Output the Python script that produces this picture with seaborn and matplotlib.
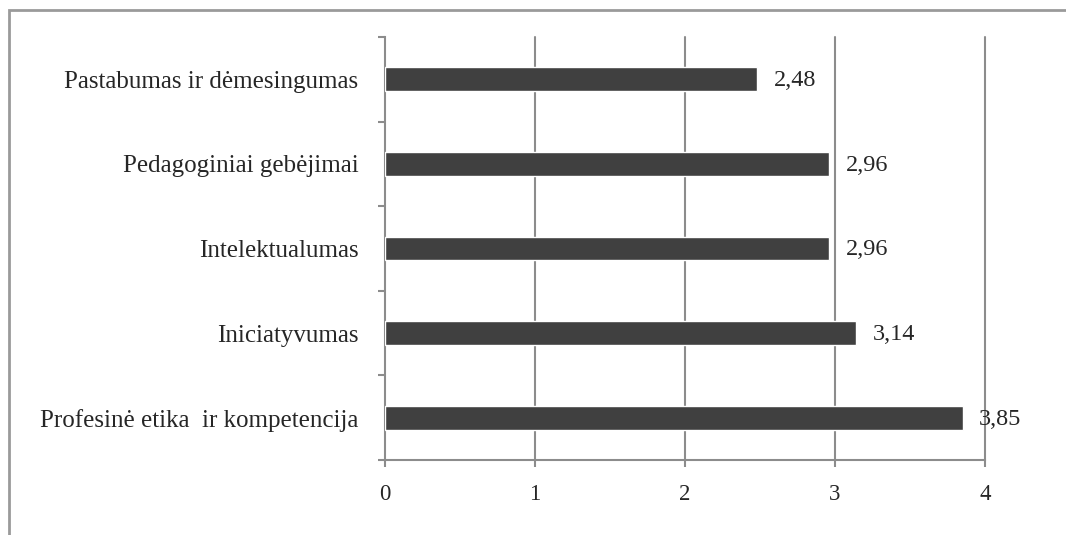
import numpy as np
import matplotlib
matplotlib.use("Agg")
import matplotlib.pyplot as plt
import seaborn as sns
from matplotlib.patches import Rectangle

categories = [
    "Pastabumas ir dėmesingumas",
    "Pedagoginiai gebėjimai",
    "Intelektualumas",
    "Iniciatyvumas",
    "Profesinė etika  ir kompetencija",
]
values = [2.48, 2.96, 2.96, 3.14, 3.85]
x_ticks = [0, 1, 2, 3, 4]

sns.set_style("white")
plt.rcParams['font.family'] = ['Liberation Serif', 'DejaVu Serif']

fig = plt.figure(figsize=(10.66, 5.35), dpi=100)
ax = fig.add_axes([385 / 1066, 1 - 460 / 535, 600 / 1066, 423 / 535])

sns.barplot(x=values, y=categories, orient="h", color="#404040", saturation=1,
            width=0.28, ax=ax, zorder=3)

grid_col = "#8c8c8c"
ax.set_xlim(0, 4)
ax.set_ylim(len(categories) - 0.5, -0.5)
ax.set_xticks(x_ticks)
ax.set_xticklabels([str(t) for t in x_ticks], fontsize=16.5)
ax.grid(False)
for t in x_ticks[1:]:
    ax.axvline(t, color=grid_col, linewidth=1.5, zorder=1, clip_on=False)

# category labels in the middle, tick marks at the boundaries
ax.set_yticks(np.arange(len(categories) + 1) - 0.5)
ax.set_yticklabels([])
ax.set_yticks(np.arange(len(categories)), minor=True)
ax.set_yticklabels(categories, minor=True, fontsize=18)
ax.tick_params(axis="y", which="minor", left=True, length=0, pad=19)
ax.tick_params(axis="y", which="major", left=True, length=5, width=1.5,
               color=grid_col, direction="out")
ax.tick_params(axis="x", bottom=True, length=5, width=1.5, color=grid_col,
               direction="out", pad=12)
ax.set_xlabel("")
ax.set_ylabel("")

for s in ["top", "right"]:
    ax.spines[s].set_visible(False)
for s in ["left", "bottom"]:
    ax.spines[s].set_color(grid_col)
    ax.spines[s].set_linewidth(1.5)

for i, v in enumerate(values):
    ax.annotate(f"{v:.2f}".replace(".", ","), xy=(v, i), xytext=(12, -1),
                textcoords="offset points", va="center", ha="left", fontsize=17.5,
                annotation_clip=False, zorder=4)

fig.add_artist(Rectangle((9 / 1066, -0.05), 1.1, 1.05 - 10 / 535,
                         transform=fig.transFigure, fill=False,
                         edgecolor="#9a9a9a", linewidth=2))

fig.savefig("out.png", dpi=100)
